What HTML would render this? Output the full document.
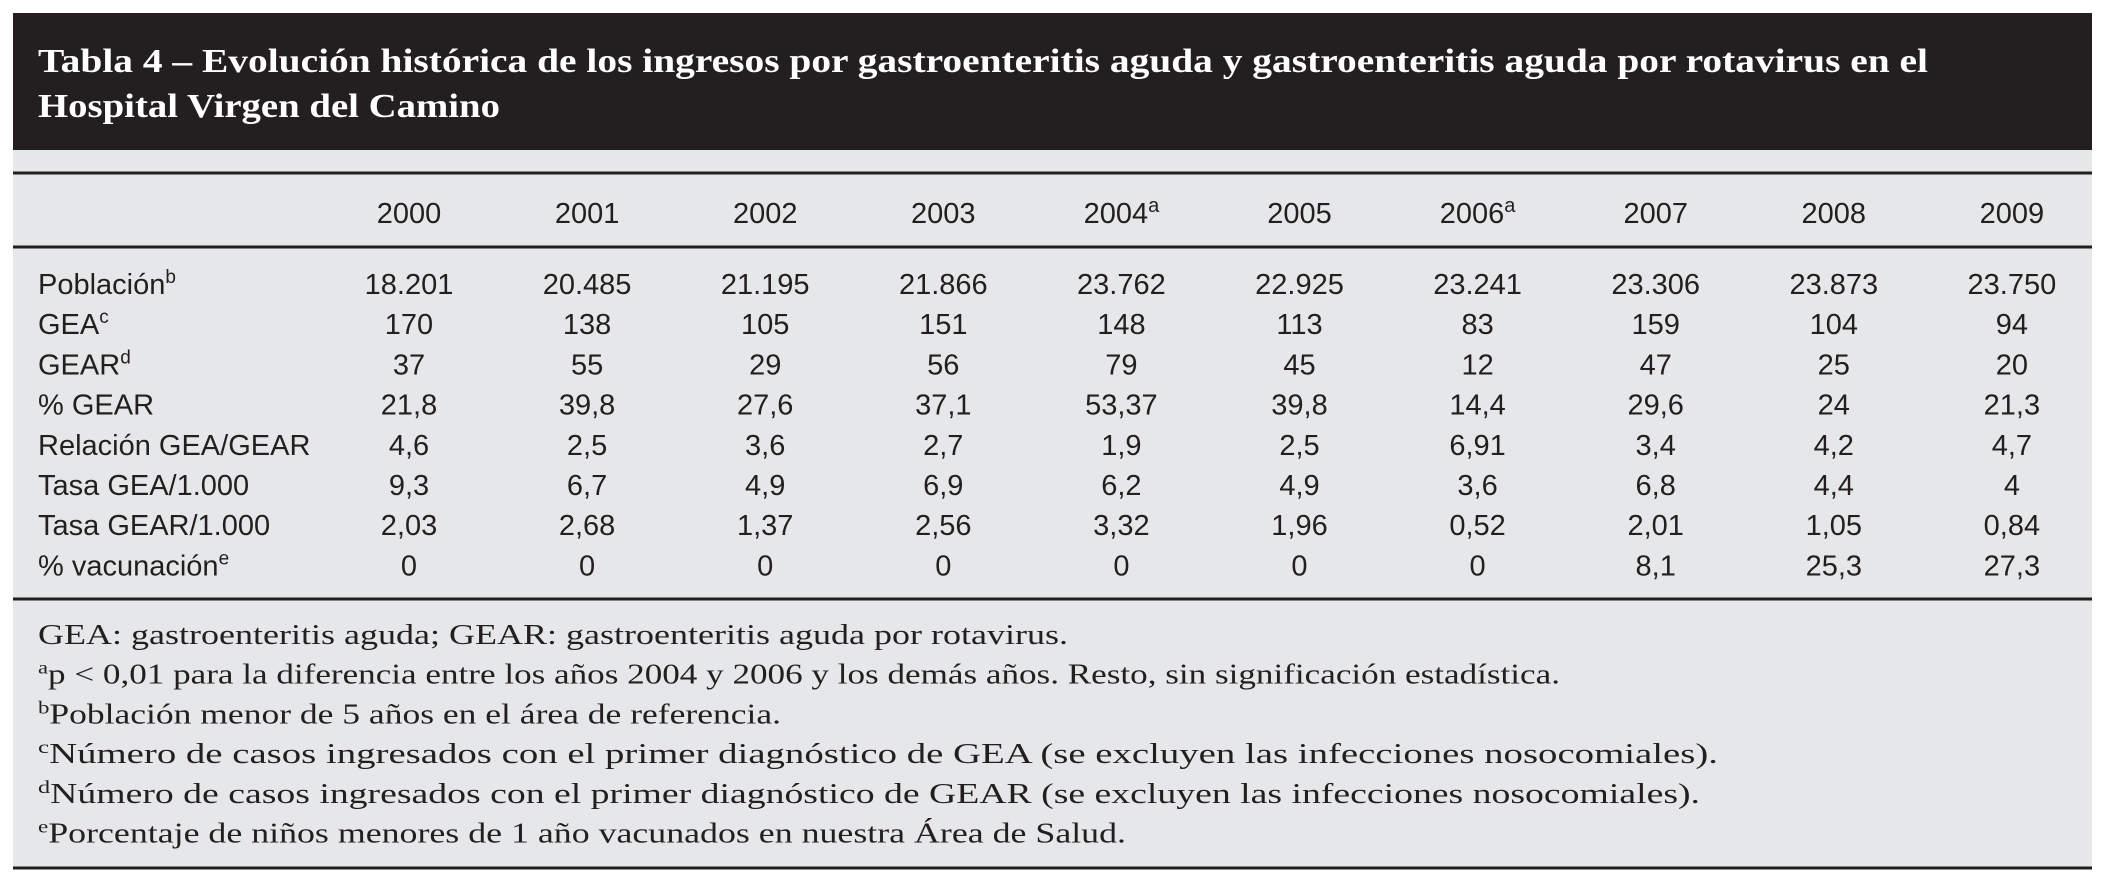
<!DOCTYPE html>
<html><head><meta charset="utf-8">
<style>
html,body{margin:0;padding:0;background:#fff;width:2112px;height:879px;overflow:hidden}
svg{display:block}
.t{font-family:"Liberation Serif",serif;font-weight:bold;fill:#fff;font-size:34px}
.d{font-family:"Liberation Sans",sans-serif;fill:#231f20;font-size:29px}
.f{font-family:"Liberation Serif",serif;fill:#231f20;font-size:28px}
</style></head>
<body>
<svg id="s" width="2112" height="879" viewBox="0 0 2112 879" xmlns="http://www.w3.org/2000/svg">
<rect x="13" y="13" width="2079" height="137" fill="#231f20"/>
<rect x="13" y="150" width="2079" height="718" fill="#e6e7e9"/>
<text class="t" x="38" y="72" textLength="1890" lengthAdjust="spacingAndGlyphs">Tabla 4 – Evolución histórica de los ingresos por gastroenteritis aguda y gastroenteritis aguda por rotavirus en el</text>
<text class="t" x="38" y="117" textLength="462" lengthAdjust="spacingAndGlyphs">Hospital Virgen del Camino</text>
<line x1="13" x2="2092" y1="173" y2="173" stroke="#231f20" stroke-width="3"/>
<line x1="13" x2="2092" y1="247" y2="247" stroke="#231f20" stroke-width="3"/>
<line x1="13" x2="2092" y1="599" y2="599" stroke="#231f20" stroke-width="3"/>
<line x1="13" x2="2092" y1="868" y2="868" stroke="#231f20" stroke-width="3"/>
<g id="cells"></g>
<g id="notes"></g>
</svg>
<script>
const years = ["2000","2001","2002","2003","2004","2005","2006","2007","2008","2009"];
const yearSup = ["","","","","a","","a","","",""];
const rowLabels = ["Población","GEA","GEAR","% GEAR","Relación GEA/GEAR","Tasa GEA/1.000","Tasa GEAR/1.000","% vacunación"];
const rowSup = ["b","c","d","","","","","e"];
const poblacion = ["18.201","20.485","21.195","21.866","23.762","22.925","23.241","23.306","23.873","23.750"];
const gea = ["170","138","105","151","148","113","83","159","104","94"];
const gear = ["37","55","29","56","79","45","12","47","25","20"];
const pctGear = ["21,8","39,8","27,6","37,1","53,37","39,8","14,4","29,6","24","21,3"];
const relacion = ["4,6","2,5","3,6","2,7","1,9","2,5","6,91","3,4","4,2","4,7"];
const tasaGea = ["9,3","6,7","4,9","6,9","6,2","4,9","3,6","6,8","4,4","4"];
const tasaGear = ["2,03","2,68","1,37","2,56","3,32","1,96","0,52","2,01","1,05","0,84"];
const vacunacion = ["0","0","0","0","0","0","0","8,1","25,3","27,3"];
const rows = [poblacion,gea,gear,pctGear,relacion,tasaGea,tasaGear,vacunacion];
const notesSup = ["","a","b","c","d","e"];
const notes = ["GEA: gastroenteritis aguda; GEAR: gastroenteritis aguda por rotavirus.",
"p < 0,01 para la diferencia entre los años 2004 y 2006 y los demás años. Resto, sin significación estadística.",
"Población menor de 5 años en el área de referencia.",
"Número de casos ingresados con el primer diagnóstico de GEA (se excluyen las infecciones nosocomiales).",
"Número de casos ingresados con el primer diagnóstico de GEAR (se excluyen las infecciones nosocomiales).",
"Porcentaje de niños menores de 1 año vacunados en nuestra Área de Salud."];
const noteWidths = [1030,1522,743,1680,1662,1088];

const NS="http://www.w3.org/2000/svg";
const cells=document.getElementById('cells');
const notesG=document.getElementById('notes');
function colX(i){return 409+i*178.1;}
function rowY(i){return 294+i*40.2;}
function mk(tag,attrs,txt){const e=document.createElementNS(NS,tag);for(const k in attrs)e.setAttribute(k,attrs[k]);if(txt!==undefined)e.textContent=txt;return e;}
function sup(parent,s,size){const t=mk('tspan',{'font-size':size,dy:-11},s);parent.appendChild(t);}
years.forEach((y,i)=>{
  const t=mk('text',{class:'d',x:colX(i),y:223,'text-anchor':'middle','font-size':31});
  
  
  t.appendChild(mk('tspan',{},y));
  if(yearSup[i])sup(t,yearSup[i],20);
  cells.appendChild(t);
});
rowLabels.forEach((l,r)=>{
  const t=mk('text',{class:'d',x:38,y:rowY(r)});
  
  
  t.appendChild(mk('tspan',{},l));
  if(rowSup[r])sup(t,rowSup[r],19);
  cells.appendChild(t);
  rows[r].forEach((v,i)=>{
    const c=mk('text',{class:'d',x:colX(i),y:rowY(r),'text-anchor':'middle'},v);
    
    
    cells.appendChild(c);
  });
});
notes.forEach((n,i)=>{
  const t=mk('text',{class:'f',x:38,y:644+i*39.7,textLength:noteWidths[i],lengthAdjust:'spacingAndGlyphs'});
  
  
  if(notesSup[i]){t.appendChild(mk('tspan',{'font-size':18,dy:-10},notesSup[i]));t.appendChild(mk('tspan',{dy:10},n));}
  else t.appendChild(mk('tspan',{},n));
  notesG.appendChild(t);
});
</script>
</body></html>
